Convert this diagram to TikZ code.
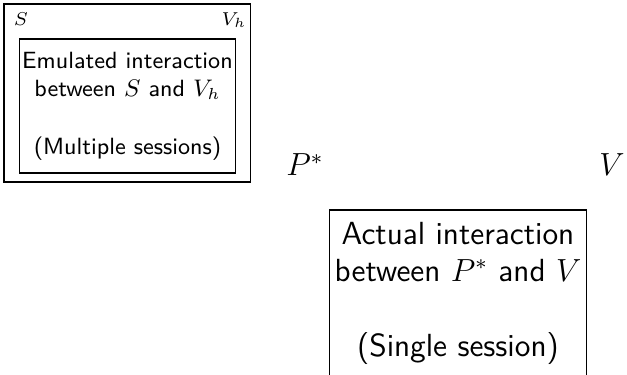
\documentclass[tikz,border=0pt]{standalone}
\begin{document}
\begin{tikzpicture}[x=0.375pt,y=-0.375pt,
    font=\sffamily,
    box/.style={draw, align=center, inner sep=1pt},
    small/.style={font=\sffamily\fontsize{8.8}{10.8}\selectfont},
    big/.style={font=\sffamily\large}]
  \useasboundingbox (0,0) rectangle (627,374);
  \clip (0,0) rectangle (627,374);
  \draw
    (127.5,93) node[draw, minimum width=92.6pt, minimum height=66.75pt] (sim){}
    (21,25) node[font=\scriptsize, anchor=base, inner sep=0pt] (s){$S$}
    (234,25) node[font=\scriptsize, anchor=base, inner sep=0pt] (vh){$V_h$}
    (127.5,106) node[box, small, minimum width=80.6pt, minimum height=50.25pt] (emul){Emulated interaction\\between $S$ and $V_h$\\ \\(Multiple sessions)}
    (305,165) node[big] (p){$P^*$}
    (612,165) node[big] (v){$V$}
    (458,293) node[box, big, minimum width=96.4pt, minimum height=62.25pt] (act){Actual interaction\\between $P^*$ and $V$\\ \\(Single session)};
\end{tikzpicture}
\end{document}
